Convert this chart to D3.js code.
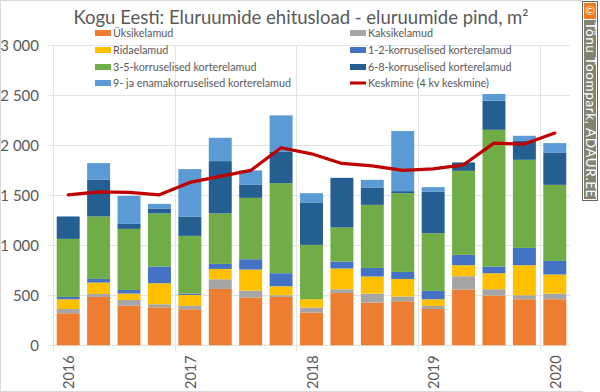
<!DOCTYPE html>
<html>
<head>
<meta charset="utf-8">
<script src="https://cdn.jsdelivr.net/npm/d3@7"></script>
<style>
  html, body { margin: 0; padding: 0; background: #fff; }
  svg { display: block; font-family: Lato, "Open Sans", sans-serif; }
</style>
</head>
<body>
<svg id="chart" width="600" height="392"></svg>
<script>
// --- Data ---
const quarters = ["2016 K1","2016 K2","2016 K3","2016 K4","2017 K1","2017 K2","2017 K3","2017 K4",
                  "2018 K1","2018 K2","2018 K3","2018 K4","2019 K1","2019 K2","2019 K3","2019 K4","2020 K1"];
const yearLabels = ["2016","2017","2018","2019","2020"];
const yTicks = [0, 500, 1000, 1500, 2000, 2500, 3000];

const uksikelamud = [320,483,397,380,360,563,477,483,327,523,427,440,363,557,497,460,460];
const kaksikelamud = [43,30,56,30,33,97,70,17,50,37,90,47,30,133,63,40,57];
const ridaelamud = [97,114,64,210,110,103,210,90,83,207,170,176,67,110,160,300,190];
const korrus12 = [23,36,36,167,14,50,103,130,0,70,86,70,83,103,67,173,136];
const korrus35 = [580,624,610,530,576,504,613,900,543,340,630,787,577,840,1366,880,760];
const korrus68 = [224,366,50,50,194,523,134,317,424,496,174,20,413,84,290,194,324];
const korrus9 = [0,167,280,46,473,233,140,360,93,0,76,600,47,0,67,46,93];
const keskmine = [1503,1533,1527,1503,1627,1687,1747,1973,1913,1817,1793,1747,1763,1803,2020,2010,2120];

const seriesNames = ["Üksikelamud","Kaksikelamud","Ridaelamud","1-2-korruselised korterelamud",
                     "3-5-korruselised korterelamud","6-8-korruselised korterelamud","9- ja enamakorruselised korterelamud"];
const seriesValues = [uksikelamud, kaksikelamud, ridaelamud, korrus12, korrus35, korrus68, korrus9];
const seriesColors = ["#ed7d31","#a5a5a5","#ffc000","#4472c4","#70ad47","#255e91","#5b9bd5"];
const lineName = "Keskmine (4 kv keskmine)";
const lineColor = "#c00000";

// --- Scales ---
const svg = d3.select("#chart");
const plot = { left: 53, right: 570, top: 45, bottom: 345.3 };

const x = d3.scaleBand().domain(quarters).range([plot.left, plot.right]).paddingInner(0.245).paddingOuter(0.1225);
const y = d3.scaleLinear().domain([0, 3000]).range([plot.bottom, plot.top]);
const step = (plot.right - plot.left) / quarters.length;

// --- Frame ---
svg.append("rect").attr("x", 0.5).attr("y", 0.5).attr("width", 599).attr("height", 391)
  .attr("fill", "#fff").attr("stroke", "#d9d9d9");

// --- Grid ---
const grid = svg.append("g").attr("stroke", "#e4e4e4").attr("stroke-width", 1);
grid.selectAll("line.h").data(yTicks).join("line")
  .attr("class", "h")
  .attr("x1", 48).attr("x2", plot.right)
  .attr("y1", d => Math.round(y(d)) + 0.5).attr("y2", d => Math.round(y(d)) + 0.5);
grid.selectAll("line.v").data(yearLabels).join("line")
  .attr("class", "v")
  .attr("x1", (d, i) => Math.round(plot.left + i * 4 * step) + 0.5)
  .attr("x2", (d, i) => Math.round(plot.left + i * 4 * step) + 0.5)
  .attr("y1", plot.top).attr("y2", plot.bottom + 6);

// --- Y axis labels ---
svg.append("g").selectAll("text").data(yTicks).join("text")
  .attr("x", 39).attr("y", d => y(d) + 5.5)
  .attr("text-anchor", "end").attr("font-size", 15).attr("fill", "#595959")
  .text(d => d3.format(",")(d).replace(",", " "));

// --- Stacked bars ---
const stackInput = quarters.map((q, i) => {
  const row = { q };
  seriesNames.forEach((n, j) => { row[n] = seriesValues[j][i]; });
  return row;
});
const stacked = d3.stack().keys(seriesNames)(stackInput);

svg.append("g").selectAll("g").data(stacked).join("g")
  .attr("fill", (d, i) => seriesColors[i])
  .selectAll("rect").data(d => d).join("rect")
  .attr("x", d => x(d.data.q))
  .attr("width", x.bandwidth())
  .attr("y", d => y(d[1]))
  .attr("height", d => y(d[0]) - y(d[1]));

// --- Average line ---
svg.append("path").datum(keskmine)
  .attr("fill", "none").attr("stroke", lineColor).attr("stroke-width", 3.2)
  .attr("stroke-linecap", "round").attr("stroke-linejoin", "round")
  .attr("d", d3.line().x((d, i) => x(quarters[i]) + x.bandwidth() / 2).y(d => y(d)));

// --- X labels (rotated) ---
svg.append("g").selectAll("text").data(yearLabels).join("text")
  .attr("transform", (d, i) => `translate(${x(quarters[i * 4]) + x.bandwidth() / 2 + 6},389) rotate(-90)`)
  .attr("font-size", 14.5).attr("fill", "#595959")
  .text(d => d);

// --- Title ---
svg.append("text").attr("x", 301).attr("y", 23.5)
  .attr("text-anchor", "middle").attr("font-size", 18.5).attr("fill", "#595959")
  .text("Kogu Eesti: Eluruumide ehitusload - eluruumide pind, m²");

// --- Legend ---
const legendRows = [
  { name: seriesNames[0], color: seriesColors[0], lx: 95, ly: 33 },
  { name: seriesNames[1], color: seriesColors[1], lx: 350, ly: 33 },
  { name: seriesNames[2], color: seriesColors[2], lx: 95, ly: 50 },
  { name: seriesNames[3], color: seriesColors[3], lx: 350, ly: 50 },
  { name: seriesNames[4], color: seriesColors[4], lx: 95, ly: 67 },
  { name: seriesNames[5], color: seriesColors[5], lx: 350, ly: 67 },
  { name: seriesNames[6], color: seriesColors[6], lx: 95, ly: 83 },
  { name: lineName, color: lineColor, lx: 350, ly: 83, isLine: true }
];
const legend = svg.append("g").selectAll("g").data(legendRows).join("g")
  .attr("transform", d => `translate(${d.lx},${d.ly})`);
legend.append("rect")
  .attr("x", 0).attr("width", 16)
  .attr("y", d => d.isLine ? -1.5 : -3).attr("height", d => d.isLine ? 3 : 6)
  .attr("fill", d => d.color);
legend.append("text")
  .attr("x", 18).attr("y", 4)
  .attr("font-size", 10.8).attr("fill", "#595959")
  .text(d => d.name);

// --- Watermark strip ---
const strip = svg.append("g");
strip.append("rect").attr("x", 583).attr("y", 0).attr("width", 17).attr("height", 392).attr("fill", "#fff");
strip.append("rect").attr("x", 582.5).attr("y", 1.5).attr("width", 15).attr("height", 199)
  .attr("fill", "#fff").attr("stroke", "#666");
strip.append("rect").attr("x", 584).attr("y", 3).attr("width", 12).attr("height", 16).attr("fill", "#f47b20");
strip.append("rect").attr("x", 584).attr("y", 20).attr("width", 12).attr("height", 179).attr("fill", "#83836f");
strip.append("text").attr("x", 590).attr("y", 15).attr("text-anchor", "middle")
  .attr("font-size", 12).attr("fill", "#fff").text("©");
strip.append("text").attr("transform", "translate(586,22) rotate(90)")
  .attr("font-size", 13.5).attr("fill", "#fff").attr("letter-spacing", 0.6)
  .text("Tõnu Toompark, ADAUR.EE");
</script>
</body>
</html>
